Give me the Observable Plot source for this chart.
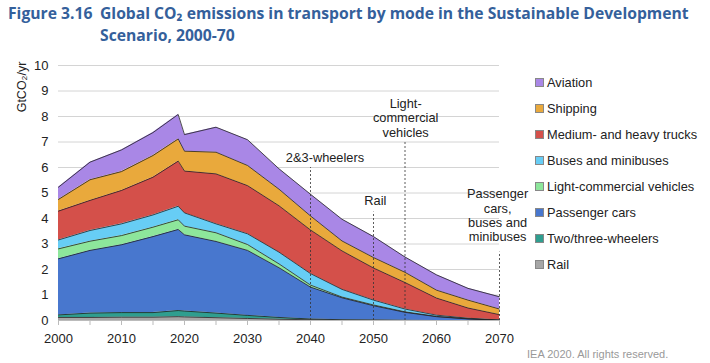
<!DOCTYPE html>
<html><head><meta charset="utf-8">
<script src="https://cdn.jsdelivr.net/npm/d3@7"></script>
<script src="https://cdn.jsdelivr.net/npm/@observablehq/plot@0.6"></script>
<style>
body{margin:0;background:#fff;}
#wrap{position:relative;width:710px;height:363px;overflow:hidden;font-family:"Liberation Sans",Arial,sans-serif;color:#222;}
#title{position:absolute;left:8px;top:2px;font-family:"Open Sans",sans-serif;font-weight:700;font-size:15.7px;color:#34609b;line-height:22px;}
#title .num{position:absolute;left:0;top:0;white-space:nowrap;}
#title .txt{position:absolute;left:92px;top:0;white-space:nowrap;}
#ylab{position:absolute;left:22px;top:87px;transform:translate(-50%,-50%) rotate(-90deg);font-size:12.5px;white-space:nowrap;}
#legend{position:absolute;left:535px;top:0;}
.li{position:absolute;left:0;white-space:nowrap;font-size:12.8px;line-height:14px;}
.sw{display:inline-block;width:7px;height:7px;border:1px solid #888;margin-right:3px;vertical-align:0px;}
#foot{position:absolute;left:527px;top:348px;font-size:11px;color:#999;white-space:nowrap;}
#chart{position:absolute;left:0;top:0;}
</style></head><body>
<div id="wrap">
<div id="chart"></div>
<div id="title"><span class="num">Figure 3.16</span><span class="txt">Global CO₂ emissions in transport by mode in the Sustainable Development<br>Scenario, 2000-70</span></div>
<div id="ylab">GtCO₂/yr</div>
<div id="legend"></div>
<div id="foot">IEA 2020. All rights reserved.</div>
</div>
<script>
const years = [2000,2005,2010,2015,2019,2020,2025,2030,2035,2040,2045,2050,2055,2060,2065,2070];
const rail     = [0.12,0.12,0.13,0.13,0.15,0.14,0.11,0.08,0.05,0.03,0.01,0.01,0,0,0,0];
const twoThree = [0.10,0.17,0.18,0.18,0.24,0.23,0.18,0.12,0.07,0.03,0.02,0.01,0.01,0,0,0];
const cars     = [2.20,2.46,2.66,2.98,3.18,2.99,2.81,2.55,1.95,1.25,0.86,0.56,0.31,0.15,0.06,0.01];
const lcv      = [0.39,0.36,0.36,0.37,0.38,0.34,0.34,0.23,0.15,0.08,0.03,0.03,0.02,0.01,0.01,0];
const buses    = [0.35,0.42,0.46,0.48,0.53,0.52,0.35,0.42,0.46,0.45,0.30,0.19,0.11,0.05,0.02,0.01];
const trucks   = [1.13,1.18,1.31,1.48,1.77,1.64,1.96,1.89,1.82,1.71,1.51,1.26,1.04,0.67,0.40,0.21];
const shipping = [0.46,0.81,0.74,0.85,0.87,0.78,0.85,0.79,0.65,0.55,0.39,0.41,0.40,0.31,0.31,0.22];
const aviation = [0.48,0.69,0.85,0.90,0.96,0.65,0.98,1.01,0.80,0.85,0.85,0.82,0.60,0.60,0.46,0.48];

const modeNames = ["Rail","Two/three-wheelers","Passenger cars","Light-commercial vehicles","Buses and minibuses","Medium- and heavy trucks","Shipping","Aviation"];
const modeColors = ["#a6a6a6","#2f9e8f","#4877ce","#8de69b","#67cdf5","#d4504a","#e9a93c","#a987e6"];
const modeValues = [rail,twoThree,cars,lcv,buses,trucks,shipping,aviation];

const annYears  = [2040,2050,2055,2070];
const annTops   = [6.0,4.25,7.0,2.68];
const annLabels = ["2&3-wheelers","Rail","Light-\ncommercial\nvehicles","Passenger\ncars,\nbuses and\nminibuses"];
const annLabelX = [2042.3,2050.3,2055.1,2069.7];
const annLabelY = [6.39,4.73,7.95,4.13];

const yTicks = d3.range(0,11);
const xTicks = d3.range(2000,2071,5);

const data = modeNames.flatMap((m,j) => years.map((yr,i) => ({year:yr, mode:m, value:modeValues[j][i]})));
const ann = annYears.map((yr,i) => ({year:yr, top:annTops[i], label:annLabels[i], lx:annLabelX[i], ly:annLabelY[i]}));

const plot = Plot.plot({
  width:710, height:363, marginTop:65, marginBottom:43, marginLeft:58, marginRight:211,
  x:{domain:[2000,2070]}, y:{domain:[0,10]},
  color:{domain:modeNames, range:modeColors},
  style:{fontFamily:"Liberation Sans, Arial, sans-serif", fontSize:"13px", color:"#222", background:"transparent"},
  marks:[
    Plot.gridY({ticks:yTicks.slice(1), stroke:"#d4d4d4", strokeOpacity:1}),
    Plot.areaY(data, {x:"year", y:"value", z:"mode", fill:"mode", order:modeNames, fillOpacity:1}),
    Plot.lineY(data, Plot.stackY2({x:"year", y:"value", z:"mode", order:modeNames, stroke:"#222", strokeWidth:0.8})),
    Plot.ruleY([0], {stroke:"#bbb"}),
    Plot.axisY({ticks:yTicks, tickSize:0, tickPadding:10, label:null, tickFormat:d=>String(d)}),
    Plot.axisX({ticks:xTicks, tickSize:5, tickPadding:8, stroke:"#bbb", label:null, tickFormat:d=>d%10===0?String(d):""}),
    Plot.ruleX(ann, {x:"year", y1:0, y2:"top", stroke:"#333", strokeDasharray:"2,2", strokeWidth:0.8}),
    Plot.text(ann, {x:"lx", y:"ly", text:"label", lineAnchor:"middle", lineHeight:1.13, fontSize:12.8, fill:"#222"})
  ]
});
document.getElementById("chart").appendChild(plot);

const legendOrder = modeNames.map((m,i)=>({m, c:modeColors[i]})).reverse();
const leg = document.getElementById("legend");
legendOrder.forEach((d,i) => {
  const el = document.createElement("div");
  el.className = "li";
  el.style.top = (76 + i*26) + "px";
  el.innerHTML = `<span class="sw" style="background:${d.c}"></span>${d.m}`;
  leg.appendChild(el);
});
</script>
</body></html>
